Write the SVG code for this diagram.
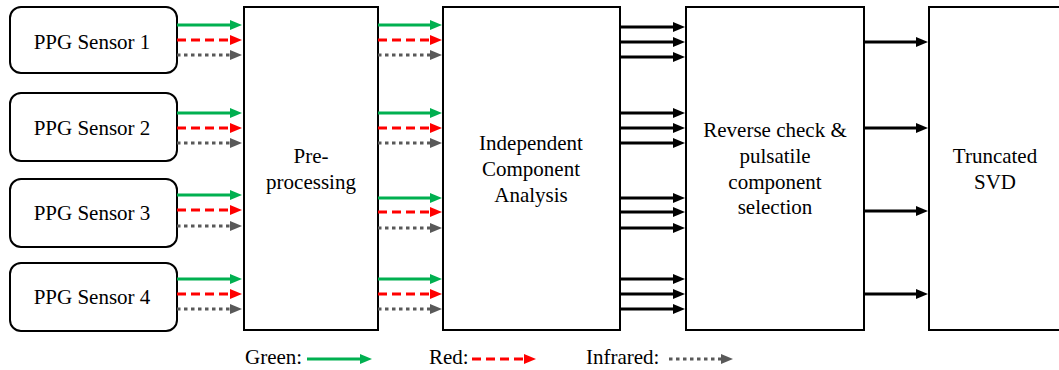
<svg xmlns="http://www.w3.org/2000/svg" width="1059" height="370" viewBox="0 0 1059 370">
<style>
.box{fill:#fff;stroke:#000;stroke-width:2}
text{font-family:'Liberation Serif','Times New Roman',serif;font-size:21px;fill:#000}
.t{text-anchor:middle}
.g{stroke:#00b050;stroke-width:3;fill:none;marker-end:url(#ag)}
.r{stroke:#ff0000;stroke-width:3;fill:none;stroke-dasharray:9 5;marker-end:url(#ar)}
.i{stroke:#595959;stroke-width:3;fill:none;stroke-dasharray:3.5 3.5;marker-end:url(#ai)}
.k{stroke:#000;stroke-width:3;fill:none;marker-end:url(#ak)}
</style>
<defs>
<marker id="ag" markerUnits="userSpaceOnUse" viewBox="0 0 12 10" refX="0" refY="5" markerWidth="12" markerHeight="10" orient="auto"><path d="M0,0L12,5L0,10z" fill="#00b050"/></marker>
<marker id="ar" markerUnits="userSpaceOnUse" viewBox="0 0 12 10" refX="0" refY="5" markerWidth="12" markerHeight="10" orient="auto"><path d="M0,0L12,5L0,10z" fill="#ff0000"/></marker>
<marker id="ai" markerUnits="userSpaceOnUse" viewBox="0 0 12 10" refX="0" refY="5" markerWidth="12" markerHeight="10" orient="auto"><path d="M0,0L12,5L0,10z" fill="#595959"/></marker>
<marker id="ak" markerUnits="userSpaceOnUse" viewBox="0 0 12 10" refX="0" refY="5" markerWidth="12" markerHeight="10" orient="auto"><path d="M0,0L12,5L0,10z" fill="#000"/></marker>
</defs>
<rect width="1059" height="370" fill="#fff"/>
<g id="sensor1"><rect class="box" x="10" y="7" width="167" height="66" rx="11"/><text class="t" x="92" y="49">PPG Sensor 1</text></g>
<g id="sensor2"><rect class="box" x="10" y="93" width="167" height="68" rx="11"/><text class="t" x="92" y="135">PPG Sensor 2</text></g>
<g id="sensor3"><rect class="box" x="10" y="179" width="167" height="68" rx="11"/><text class="t" x="92" y="220">PPG Sensor 3</text></g>
<g id="sensor4"><rect class="box" x="10" y="263" width="167" height="68" rx="11"/><text class="t" x="92" y="304">PPG Sensor 4</text></g>
<g id="preprocessing"><rect class="box" x="244" y="7" width="134" height="323"/><text class="t" x="311" y="163">Pre-</text><text class="t" x="311" y="189">processing</text></g>
<g id="ica"><rect class="box" x="443" y="7" width="177" height="323"/><text class="t" x="531" y="150">Independent</text><text class="t" x="531" y="176">Component</text><text class="t" x="531" y="202">Analysis</text></g>
<g id="reverse"><rect class="box" x="686" y="7" width="178" height="323"/><text class="t" x="775" y="137">Reverse check &amp;</text><text class="t" x="775" y="163">pulsatile</text><text class="t" x="775" y="189">component</text><text class="t" x="775" y="214">selection</text></g>
<g id="svd"><rect class="box" x="929" y="7" width="140" height="323"/><text class="t" x="995" y="163">Truncated</text><text class="t" x="995" y="189">SVD</text></g>
<g id="connectors">
<line class="g" x1="177" y1="25" x2="230" y2="25"/><line class="r" x1="177" y1="40" x2="230" y2="40"/><line class="i" x1="177" y1="55" x2="230" y2="55"/>
<line class="g" x1="177" y1="113" x2="230" y2="113"/><line class="r" x1="177" y1="128" x2="230" y2="128"/><line class="i" x1="177" y1="143" x2="230" y2="143"/>
<line class="g" x1="177" y1="195" x2="230" y2="195"/><line class="r" x1="177" y1="210" x2="230" y2="210"/><line class="i" x1="177" y1="226" x2="230" y2="226"/>
<line class="g" x1="177" y1="279" x2="230" y2="279"/><line class="r" x1="177" y1="294" x2="230" y2="294"/><line class="i" x1="177" y1="309" x2="230" y2="309"/>
<line class="g" x1="378" y1="25" x2="430" y2="25"/><line class="r" x1="378" y1="40" x2="430" y2="40"/><line class="i" x1="378" y1="55" x2="430" y2="55"/>
<line class="g" x1="378" y1="113" x2="430" y2="113"/><line class="r" x1="378" y1="128" x2="430" y2="128"/><line class="i" x1="378" y1="143" x2="430" y2="143"/>
<line class="g" x1="378" y1="198" x2="430" y2="198"/><line class="r" x1="378" y1="212" x2="430" y2="212"/><line class="i" x1="378" y1="228" x2="430" y2="228"/>
<line class="g" x1="378" y1="279" x2="430" y2="279"/><line class="r" x1="378" y1="294" x2="430" y2="294"/><line class="i" x1="378" y1="309" x2="430" y2="309"/>
<line class="k" x1="620" y1="27" x2="673" y2="27"/><line class="k" x1="620" y1="42" x2="673" y2="42"/><line class="k" x1="620" y1="57" x2="673" y2="57"/>
<line class="k" x1="620" y1="113" x2="673" y2="113"/><line class="k" x1="620" y1="128" x2="673" y2="128"/><line class="k" x1="620" y1="143" x2="673" y2="143"/>
<line class="k" x1="620" y1="198" x2="673" y2="198"/><line class="k" x1="620" y1="212" x2="673" y2="212"/><line class="k" x1="620" y1="228" x2="673" y2="228"/>
<line class="k" x1="620" y1="279" x2="673" y2="279"/><line class="k" x1="620" y1="294" x2="673" y2="294"/><line class="k" x1="620" y1="309" x2="673" y2="309"/>
<line class="k" x1="864" y1="42" x2="916" y2="42"/><line class="k" x1="864" y1="128" x2="916" y2="128"/><line class="k" x1="864" y1="211" x2="916" y2="211"/><line class="k" x1="864" y1="294" x2="916" y2="294"/>
</g>
<g id="legend">
<text x="245" y="364">Green:</text><line class="g" x1="307" y1="359" x2="360" y2="359"/>
<text x="429" y="364">Red:</text><line class="r" x1="472" y1="359" x2="524" y2="359"/>
<text x="586" y="364">Infrared:</text><line class="i" x1="669" y1="359" x2="721" y2="359"/>
</g>
</svg>
